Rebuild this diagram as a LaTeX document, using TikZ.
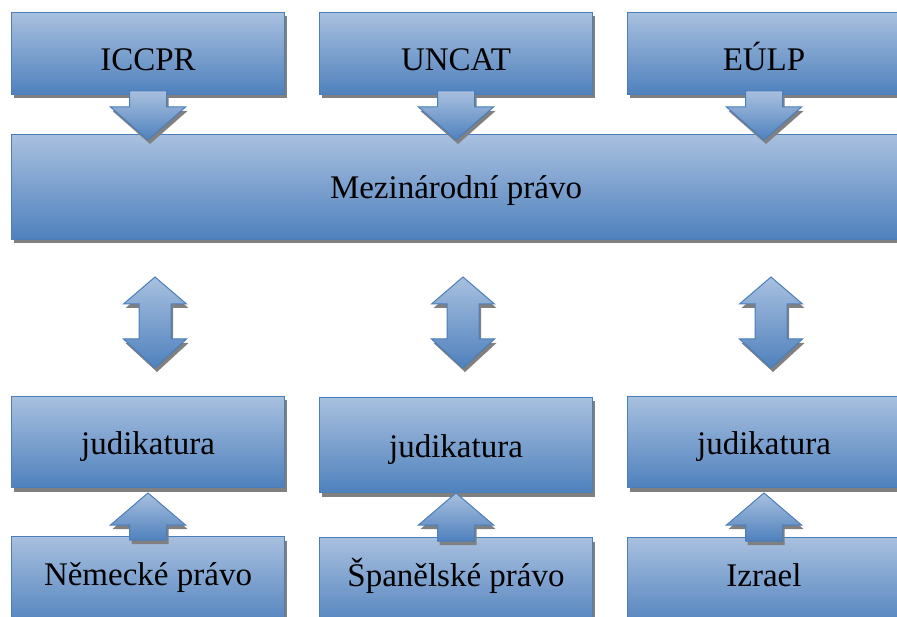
\documentclass[tikz,border=0pt]{standalone}
\usepackage{fontspec}
\setmainfont{Liberation Serif}
\usetikzlibrary{calc,shadows}
\definecolor{boxtop}{RGB}{168,192,223}
\definecolor{boxbottom}{RGB}{79,129,189}
\definecolor{boxline}{RGB}{74,126,187}
\definecolor{shadowgray}{RGB}{128,128,128}

% block arrows: #1 = start of the shaft, #2 = tip
\newcommand{\blockdown}[2]{%
  \path[blockarrow] let \p1=(#1), \p2=(#2) in
    ({\x1-18.5pt},\y1) -- ({\x1+18.5pt},\y1) -- ({\x1+18.5pt},{\y2+33pt})
    -- ({\x1+37.5pt},{\y2+33pt}) -- (\x2,\y2) -- ({\x1-37.5pt},{\y2+33pt})
    -- ({\x1-18.5pt},{\y2+33pt}) -- cycle;}
\newcommand{\blockup}[2]{%
  \path[blockarrow] let \p1=(#1), \p2=(#2) in
    ({\x1-18.5pt},\y1) -- ({\x1-18.5pt},{\y2-32pt}) -- ({\x1-37.5pt},{\y2-32pt})
    -- (\x2,\y2) -- ({\x1+37.5pt},{\y2-32pt}) -- ({\x1+18.5pt},{\y2-32pt})
    -- ({\x1+18.5pt},\y1) -- cycle;}
% #1 = upper tip, #2 = lower tip
\newcommand{\blockboth}[2]{%
  \path[blockarrow] let \p1=(#1), \p2=(#2) in
    (\x1,\y1) -- ({\x1+31.5pt},{\y1-27pt}) -- ({\x1+16pt},{\y1-27pt})
    -- ({\x1+16pt},{\y2+29pt}) -- ({\x1+31.5pt},{\y2+29pt}) -- (\x2,\y2)
    -- ({\x1-31.5pt},{\y2+29pt}) -- ({\x1-16pt},{\y2+29pt})
    -- ({\x1-16pt},{\y1-27pt}) -- ({\x1-31.5pt},{\y1-27pt}) -- cycle;}

\begin{document}
\begin{tikzpicture}[x=1pt,y=-1pt]
  \tikzstyle{shade}=[draw=boxline, line width=1pt, top color=boxtop, bottom color=boxbottom,
    drop shadow={shadow xshift=2pt, shadow yshift=-4pt, fill=shadowgray, opacity=1}]
  \tikzstyle{block}=[shade, anchor=north west, minimum width=273pt, inner sep=0pt,
    text depth=7pt, font=\fontsize{33}{40}\selectfont]
  \tikzstyle{blockarrow}=[shade, line join=miter]
  \useasboundingbox (0,0) rectangle (897,617);
  \clip (0,0) rectangle (897,617);

  % sources
  \node [block, minimum height=82pt, text height=41pt] (iccpr) at (11,12) {ICCPR};
  \node [block, minimum height=82pt, text height=41pt] (uncat) at (319,12) {UNCAT};
  \node [block, minimum height=82pt, text height=41pt] (eulp) at (627,12) {EÚLP};

  \node [block, minimum width=889pt, minimum height=105pt, text height=31pt] (mez) at (11,134) {Mezinárodní právo};

  % national level
  \node [block, minimum height=91pt, text height=31pt] (jud1) at (11,396) {judikatura};
  \node [block, minimum height=95pt, text height=31pt] (jud2) at (319,397) {judikatura};
  \node [block, minimum height=91pt, text height=31pt] (jud3) at (627,396) {judikatura};

  \node [block, minimum height=91pt, text height=14pt] (nem) at (11,536) {Německé právo};
  \node [block, minimum height=91pt, text height=14pt] (spa) at (319,537) {Španělské právo};
  \node [block, minimum height=91pt, text height=14pt] (izr) at (627,537) {Izrael};

  \blockdown{$(iccpr.south)+(0,4pt)$}{$(iccpr.south |- mez.north)+(0,-6pt)$}
  \blockdown{$(uncat.south)+(0,4pt)$}{$(uncat.south |- mez.north)+(0,-6pt)$}
  \blockdown{$(eulp.south)+(0,4pt)$}{$(eulp.south |- mez.north)+(0,-6pt)$}

  \blockboth{$(mez.south -| jud1.north)+(7pt,-37pt)$}{$(jud1.north)+(7pt,28pt)$}
  \blockboth{$(mez.south -| jud2.north)+(7pt,-37pt)$}{$(jud2.north)+(7pt,29pt)$}
  \blockboth{$(mez.south -| jud3.north)+(7pt,-37pt)$}{$(jud3.north)+(7pt,28pt)$}

  \blockup{$(nem.north)+(0,-4pt)$}{$(nem.north)+(0,43pt)$}
  \blockup{$(spa.north)+(0,-4pt)$}{$(spa.north)+(0,44pt)$}
  \blockup{$(izr.north)+(0,-4pt)$}{$(izr.north)+(0,44pt)$}
\end{tikzpicture}
\end{document}
